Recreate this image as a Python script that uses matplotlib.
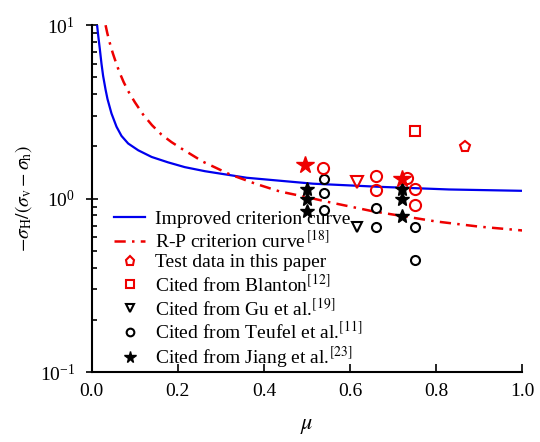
import matplotlib
matplotlib.use("Agg")
import matplotlib.pyplot as plt
import numpy as np

plt.rcParams["font.family"] = ["Liberation Serif", "DejaVu Serif"]
plt.rcParams["mathtext.fontset"] = "stix"
plt.rcParams["font.size"] = 14

# %% curves
mu_imp = [0.0123, 0.0147, 0.0186, 0.0225, 0.0263, 0.032, 0.0365, 0.0457, 0.0574, 0.069,
          0.0845, 0.108, 0.139, 0.177, 0.216, 0.263, 0.36, 0.514, 0.67, 0.83, 1.0]
k_imp = [10.0, 8.8, 7.3, 6.0, 5.1, 4.25, 3.75, 3.1, 2.6, 2.3,
         2.08, 1.9, 1.74, 1.62, 1.52, 1.44, 1.32, 1.22, 1.17, 1.13, 1.11]

mu_rp = [0.032, 0.036, 0.04, 0.045, 0.0496, 0.057, 0.065, 0.074, 0.0845, 0.1, 0.119, 0.14,
         0.162, 0.185, 0.209, 0.259, 0.321, 0.38, 0.437, 0.5, 0.553, 0.654, 0.8, 0.9, 1.0]
k_rp = [10.0, 9.0, 8.2, 7.4, 6.8, 6.0, 5.3, 4.7, 4.17, 3.6, 3.06, 2.65,
        2.34, 2.12, 1.94, 1.63, 1.38, 1.22, 1.10, 1.02, 0.953, 0.845, 0.739, 0.69, 0.656]

# %% data points
mu_test = [0.867]
k_test = [1.98]
mu_blanton = [0.75]
k_blanton = [2.47]
mu_gu = [0.616]
k_gu = [0.69]
mu_teufel = [0.54, 0.54, 0.54, 0.66, 0.66, 0.75, 0.75]
k_teufel = [1.30, 1.08, 0.864, 0.883, 0.683, 0.69, 0.444]
mu_jiang = [0.5, 0.5, 0.5, 0.72, 0.72, 0.72]
k_jiang = [1.14, 1.0, 0.85, 1.14, 1.0, 0.79]

# red (highlighted) points not listed in legend
mu_red_circ = [0.538, 0.66, 0.66, 0.732, 0.75, 0.75]
k_red_circ = [1.50, 1.35, 1.12, 1.32, 1.14, 0.92]
mu_red_tri = [0.616]
k_red_tri = [1.25]
mu_red_star = [0.495, 0.72]
k_red_star = [1.57, 1.29]

fig = plt.figure(figsize=(5.4, 4.42), dpi=100)
ax = fig.add_axes([0.170, 0.158, 0.797, 0.785])

ax.plot(mu_imp, k_imp, color="#0000ee", lw=1.6, label="Improved criterion curve")
ax.plot(mu_rp, k_rp, color="#ee0000", lw=1.8, ls=(0, (4.5, 2.5, 1, 2.5)),
        label="R-P criterion curve$^{\\,[18]}$")

ax.plot(mu_test, k_test, ls="none", marker="p", ms=8, mfc="none", mec="#ee0000", mew=1.5,
        label="Test data in this paper")
ax.plot(mu_blanton, k_blanton, ls="none", marker="s", ms=6.5, mfc="none", mec="#ee0000", mew=1.5,
        label="Cited from Blanton$^{[12]}$")
ax.plot(mu_gu, k_gu, ls="none", marker="v", ms=7.5, mfc="none", mec="k", mew=1.5,
        label="Cited from Gu et al.$^{[19]}$")
ax.plot(mu_teufel, k_teufel, ls="none", marker="o", ms=6.5, mfc="none", mec="k", mew=1.5,
        label="Cited from Teufel et al.$^{[11]}$")
ax.plot(mu_jiang, k_jiang, ls="none", marker="*", ms=10, color="k",
        label="Cited from Jiang et al.$^{[23]}$")

ax.plot(mu_red_circ, k_red_circ, ls="none", marker="o", ms=8, mfc="none", mec="#ee0000", mew=1.5)
ax.plot(mu_red_tri, k_red_tri, ls="none", marker="v", ms=8.5, mfc="none", mec="#ee0000", mew=1.5)
ax.plot(mu_red_star, k_red_star, ls="none", marker="*", ms=13, color="#ee0000")

ax.set_yscale("log")
ax.set_xlim(0, 1.0)
ax.set_ylim(0.1, 10)
ax.set_xticks([0.0, 0.2, 0.4, 0.6, 0.8, 1.0])
ax.set_xticklabels(["0.0", "0.2", "0.4", "0.6", "0.8", "1.0"])

for s in ["top", "right"]:
    ax.spines[s].set_visible(False)
for s in ["left", "bottom"]:
    ax.spines[s].set_linewidth(1.5)
ax.tick_params(which="both", direction="in", width=1.2)
ax.tick_params(which="major", length=6, labelsize=14, pad=8)
ax.tick_params(which="minor", length=3.5)
ax.tick_params(axis="y", which="major", direction="inout", length=8)

ax.set_xlabel("$\\mu$", fontsize=16, labelpad=12)
ax.set_ylabel("$-\\sigma_{\\rm H}/(\\sigma_{\\rm v}-\\sigma_{\\rm h})$", fontsize=14, labelpad=4)

ax.legend(loc="lower left", bbox_to_anchor=(0.02, -0.036), frameon=False, fontsize=14,
          handlelength=1.6, handletextpad=0.5, labelspacing=0.1, borderpad=0.2,
          markerscale=0.85)

fig.savefig("out.png", dpi=100)
